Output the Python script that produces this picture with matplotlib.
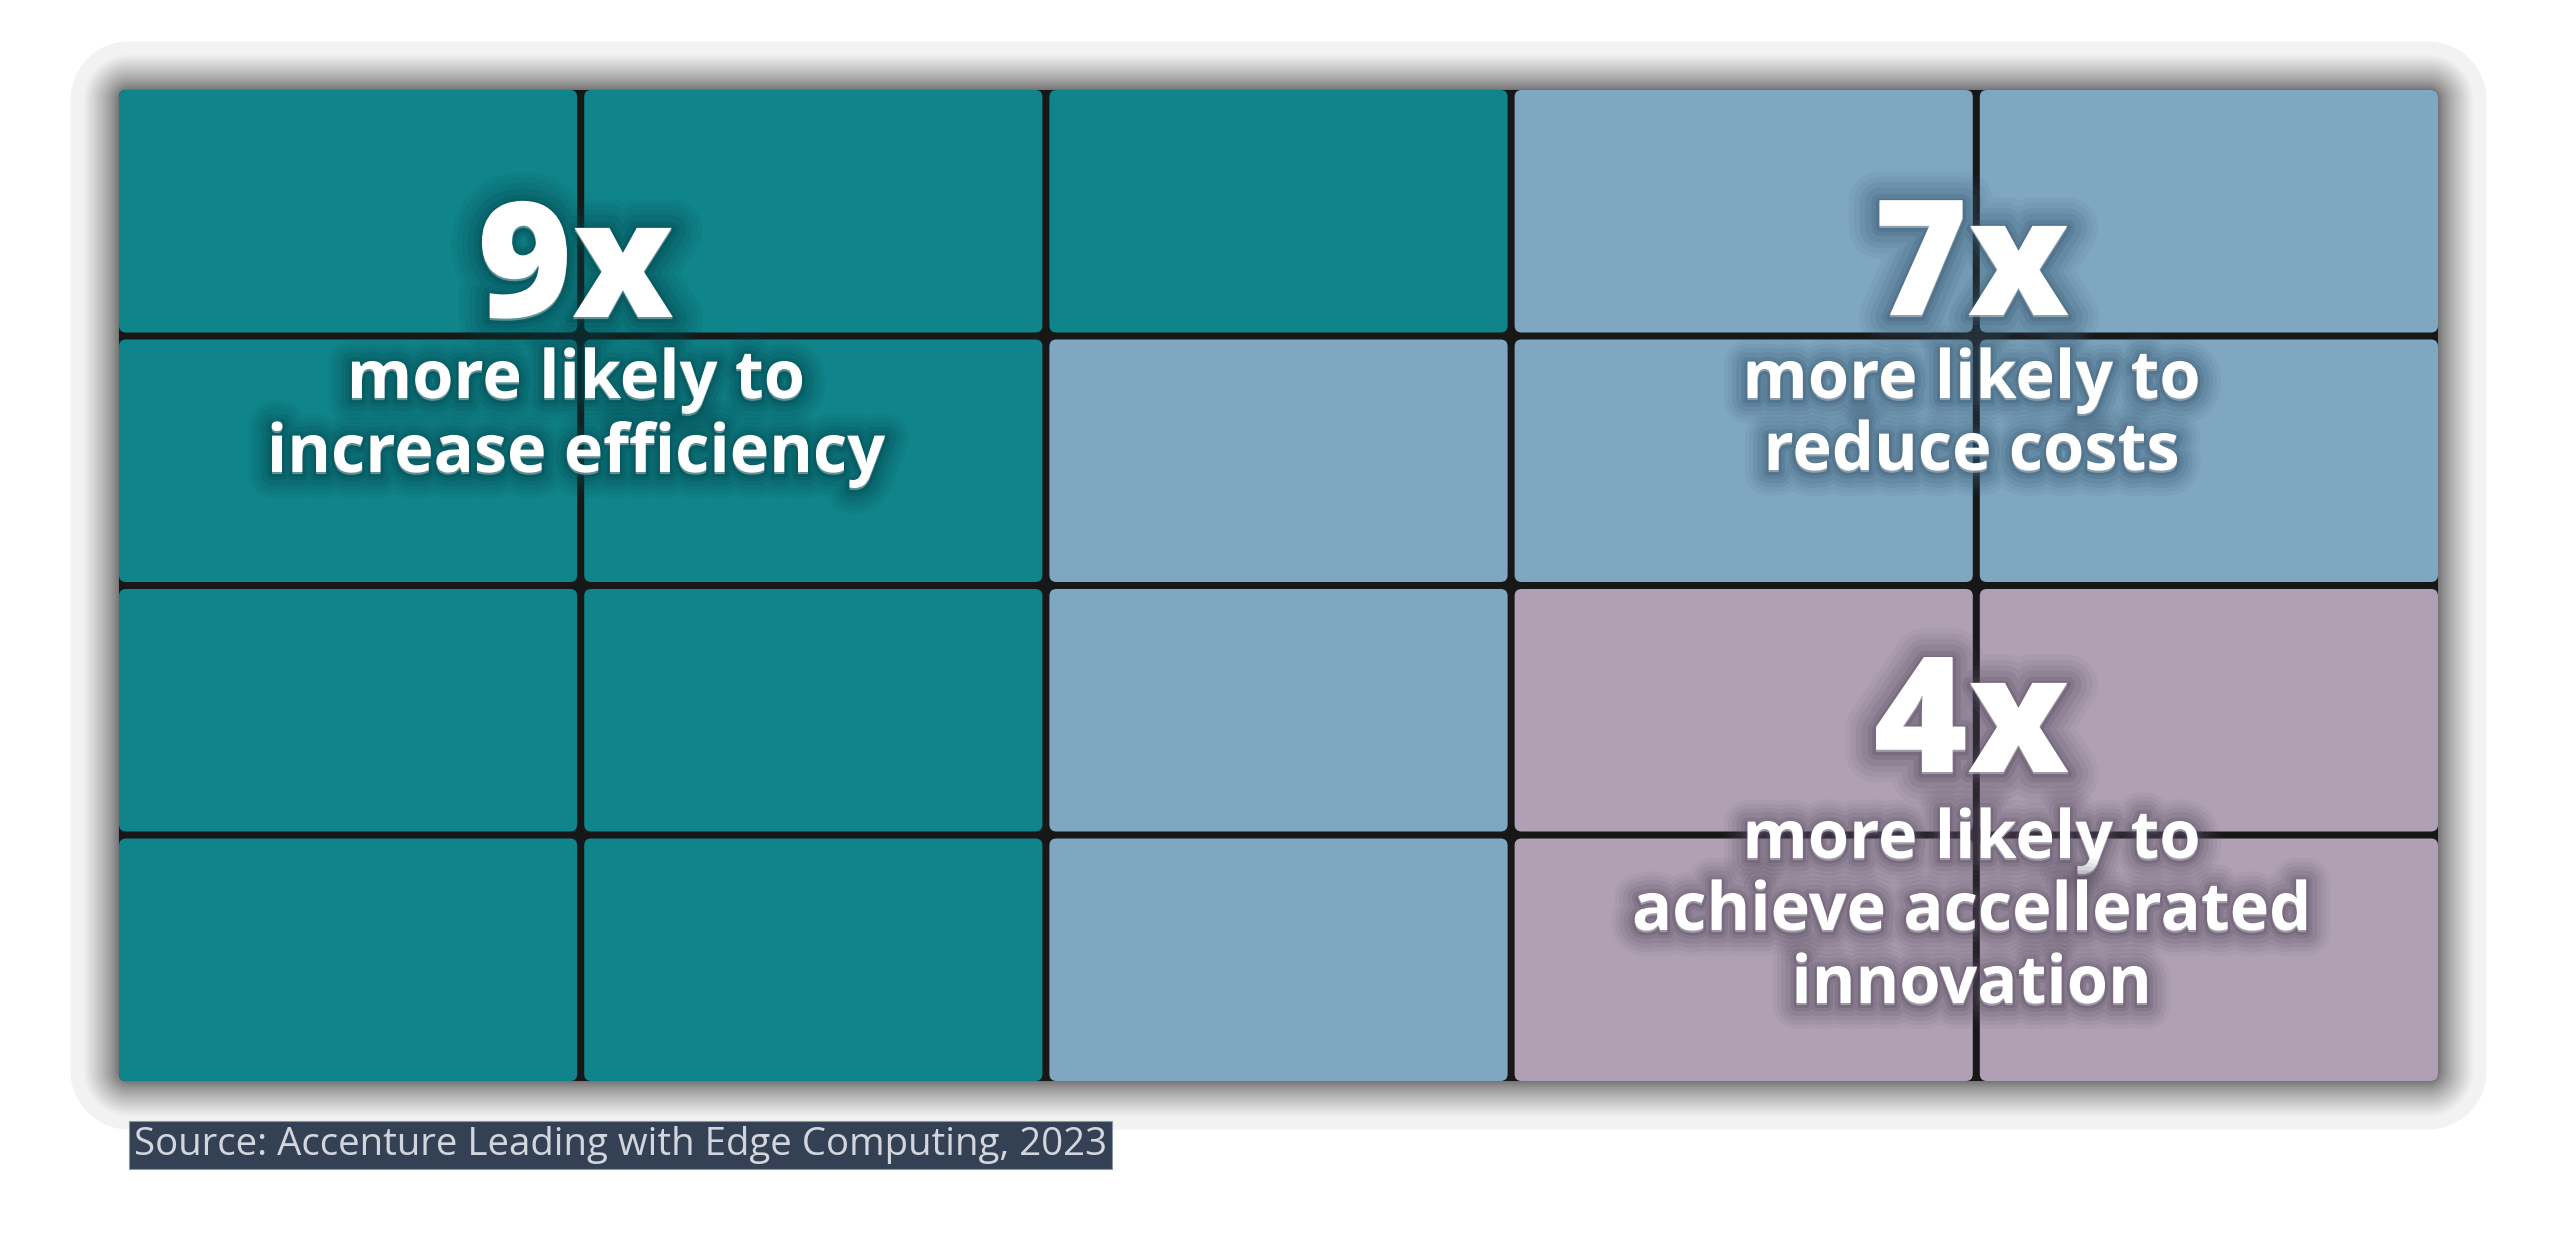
import numpy as np
import matplotlib
matplotlib.use("Agg")
import matplotlib.pyplot as plt
from matplotlib.patches import FancyBboxPatch
import matplotlib.patheffects as pe

# ---------------- data ----------------
categories = ["increase efficiency", "reduce costs", "achieve accellerated innovation"]
values = [9, 7, 4]
multipliers = ["9x", "7x", "4x"]
subtitles = [["more likely to", "increase efficiency"],
             ["more likely to", "reduce costs"],
             ["more likely to", "achieve accellerated", "innovation"]]
colors = ["#0F848A", "#7FA7C1", "#AFA1B3"]
glow_colors = ["#04484F", "#3B5A72", "#5A4F64"]
source = "Source: Accenture Leading with Edge Computing, 2023"

N_COLS, N_ROWS = 5, 4

# ---------------- figure ----------------
W, H = 2560, 1247
fig = plt.figure(figsize=(W / 100, H / 100), dpi=100)
fig.patch.set_facecolor("white")
ax = fig.add_axes([0, 0, 1, 1])
ax.set_xlim(0, W)
ax.set_ylim(H, 0)
ax.axis("off")

GX0, GY0, GX1, GY1 = 119, 90, 2438, 1081
GAP = 7
RAD = 7
cw = (GX1 - GX0 - (N_COLS - 1) * GAP) / N_COLS
ch = (GY1 - GY0 - (N_ROWS - 1) * GAP) / N_ROWS

# ---------------- soft shadow frame ----------------
yy, xx = np.mgrid[0:H, 0:W] + 0.5
r0 = 10
dx = np.maximum(np.maximum(GX0 + r0 - xx, xx - (GX1 - r0)), 0)
dy = np.maximum(np.maximum(GY0 + r0 - yy, yy - (GY1 - r0)), 0)
d = np.hypot(dx, dy) - r0
D, OUTER = 36.0, 49.0
t = np.clip(d / D, 0, 1)
g = 0.44 + (0.952 - 0.44) * t ** 0.75
img = np.ones((H, W, 4))
img[..., 0] = g
img[..., 1] = g
img[..., 2] = g
img[..., 3] = np.clip(OUTER - d, 0, 1)
ax.imshow(img, extent=(0, W, H, 0), interpolation="nearest", zorder=0, aspect="auto")

# dark grout behind cells
ax.add_patch(FancyBboxPatch((GX0, GY0), GX1 - GX0, GY1 - GY0,
                            boxstyle=f"round,pad=0,rounding_size={RAD}",
                            facecolor="#171717", edgecolor="none", zorder=1))

# ---------------- waffle cells ----------------
order = [(c, r) for c in range(3) for r in range(N_ROWS)] + \
        [(c, r) for r in range(N_ROWS) for c in range(3, N_COLS)]
cell_cat = []
for k, v in enumerate(values):
    cell_cat += [k] * v
for (c, r), k in zip(order, cell_cat):
    x0 = GX0 + c * (cw + GAP)
    y0 = GY0 + r * (ch + GAP)
    ax.add_patch(FancyBboxPatch((x0, y0), cw, ch,
                                boxstyle=f"round,pad=0,rounding_size={RAD}",
                                facecolor=colors[k], edgecolor="none", zorder=2))


def glow(color, scale=1.0):
    eff = []
    for lw, a in [(34, 0.07), (28, 0.09), (22, 0.11), (16, 0.14), (9, 0.2), (4, 0.3)]:
        eff.append(pe.Stroke(linewidth=lw * scale, foreground=color, alpha=a,
                             joinstyle="round", capstyle="round", offset=(0, -1.5)))
    eff.append(pe.Normal())
    return eff


FONT = "Open Sans"
NUM_SIZE = 116
SUB_SIZE = 48
# label anchor positions (pixel layout)
label_x = [GX0 + 1 * (cw + GAP) - GAP / 2 - 5, GX0 + 4 * (cw + GAP) - GAP / 2 - 5,
           GX0 + 4 * (cw + GAP) - GAP / 2 - 5]
num_base = [317, 315, 772]
sub_base = [[398, 472], [398, 470], [858, 930, 1003]]

for k in range(len(values)):
    ax.text(label_x[k], num_base[k], multipliers[k], ha="center", va="baseline",
            fontsize=NUM_SIZE, fontweight="heavy", family=FONT, color="white",
            zorder=5, path_effects=glow(glow_colors[k], 1.3))
    for line, yb in zip(subtitles[k], sub_base[k]):
        ax.text(label_x[k], yb, line, ha="center", va="baseline",
                fontsize=SUB_SIZE, fontweight="bold", family=FONT, color="white",
                zorder=5, path_effects=glow(glow_colors[k], 1.0))

# ---------------- source note ----------------
ax.text(134, 1155, source, ha="left", va="baseline", fontsize=27.6, family=FONT,
        color="#D3D7DD", zorder=6,
        bbox=dict(boxstyle="square,pad=0.12", facecolor="#344155",
                  edgecolor="#8C96A4", linewidth=0.8))

fig.savefig("out.png", dpi=100, facecolor="white")
